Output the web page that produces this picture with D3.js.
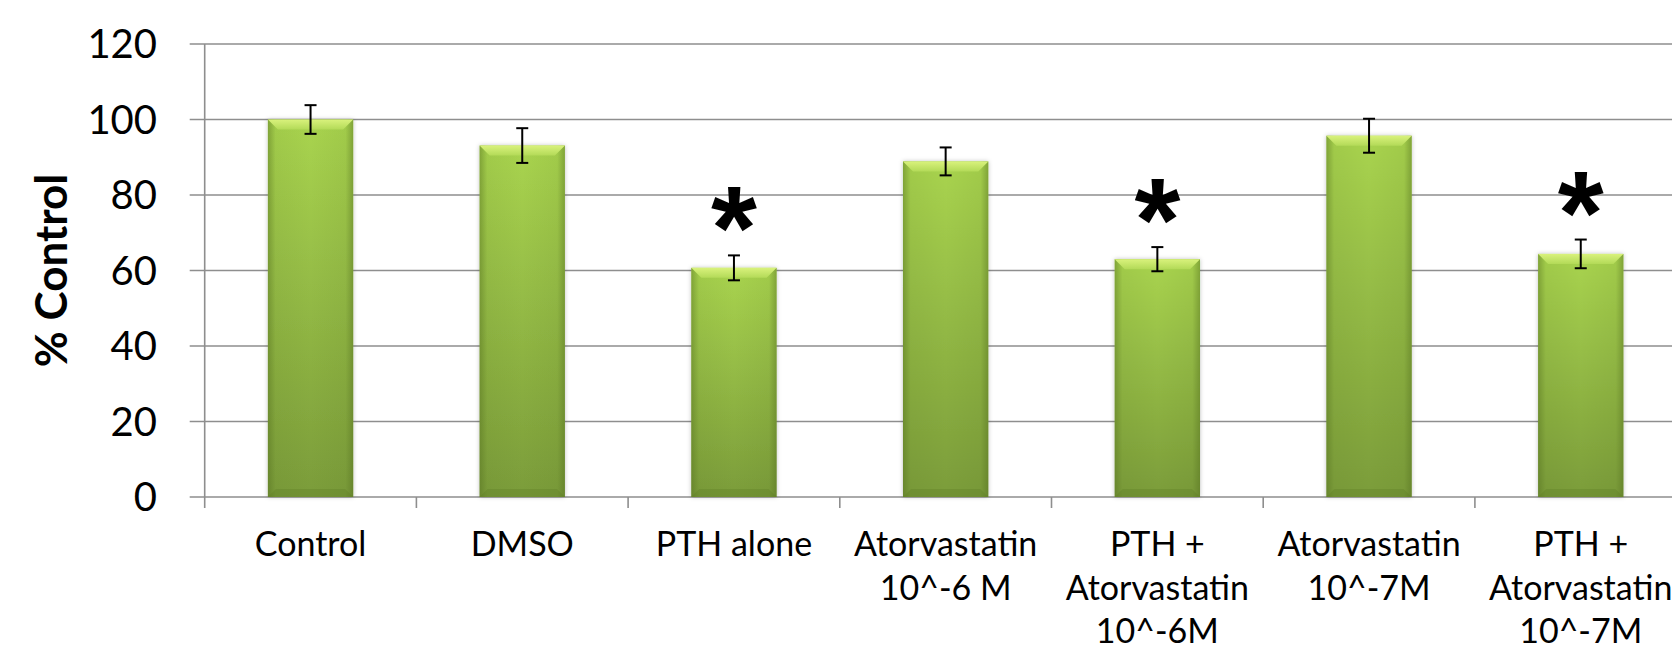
<!DOCTYPE html>
<html>
<head>
<meta charset="utf-8">
<script src="https://cdn.jsdelivr.net/npm/d3@7"></script>
<style>
  html, body { margin: 0; padding: 0; background: #fff; }
  svg { display: block; font-family: Lato, "Open Sans", sans-serif; }
</style>
</head>
<body>
<div id="chart"></div>
<script>
// data
const categories = ["Control", "DMSO", "PTH alone", "Atorvastatin 10^-6 M",
  "PTH + Atorvastatin 10^-6M", "Atorvastatin 10^-7M", "PTH + Atorvastatin 10^-7M"];
const labelLines = [["Control"], ["DMSO"], ["PTH alone"], ["Atorvastatin", "10^-6 M"],
  ["PTH +", "Atorvastatin", "10^-6M"], ["Atorvastatin", "10^-7M"], ["PTH +", "Atorvastatin", "10^-7M"]];
const values = [100, 93.1, 60.7, 88.9, 63.0, 95.7, 64.4];
const errors = [3.8, 4.6, 3.3, 3.7, 3.2, 4.5, 3.8];
const significant = [false, false, true, false, true, false, true];
const yTicks = [0, 20, 40, 60, 80, 100, 120];

const width = 1672, height = 651;
const plot = { left: 204.7, top: 44, bottom: 497, step: 211.7 };

const svg = d3.select("#chart").append("svg")
  .attr("width", width).attr("height", height);

const defs = svg.append("defs");
const body = defs.append("linearGradient").attr("id", "barBody")
  .attr("x1", 0).attr("y1", 0).attr("x2", 0).attr("y2", 1);
body.append("stop").attr("offset", "0%").attr("stop-color", "#a9d44f");
body.append("stop").attr("offset", "100%").attr("stop-color", "#7b9c3a");

const sides = defs.append("linearGradient").attr("id", "barSides")
  .attr("x1", 0).attr("y1", 0).attr("x2", 1).attr("y2", 0);
sides.append("stop").attr("offset", "0%").attr("stop-color", "#4f6a1c").attr("stop-opacity", 0.45);
sides.append("stop").attr("offset", "9%").attr("stop-color", "#4f6a1c").attr("stop-opacity", 0.08);
sides.append("stop").attr("offset", "50%").attr("stop-color", "#4f6a1c").attr("stop-opacity", 0);
sides.append("stop").attr("offset", "91%").attr("stop-color", "#4f6a1c").attr("stop-opacity", 0.08);
sides.append("stop").attr("offset", "100%").attr("stop-color", "#4f6a1c").attr("stop-opacity", 0.45);

const bevel = defs.append("linearGradient").attr("id", "barBevel")
  .attr("x1", 0).attr("y1", 0).attr("x2", 0).attr("y2", 1);
bevel.append("stop").attr("offset", "0%").attr("stop-color", "#d9f27c");
bevel.append("stop").attr("offset", "100%").attr("stop-color", "#b3da58");

const shadow = defs.append("filter").attr("id", "shadow")
  .attr("x", "-20%").attr("y", "-5%").attr("width", "140%").attr("height", "110%");
shadow.append("feDropShadow").attr("dx", 0).attr("dy", 0).attr("stdDeviation", 2)
  .attr("flood-color", "#000").attr("flood-opacity", 0.25);

const x = d3.scaleBand().domain(categories)
  .range([plot.left, plot.left + plot.step * categories.length]).padding(0);
const y = d3.scaleLinear().domain([0, 120]).range([plot.bottom, plot.top]);
const barW = x.bandwidth() * 0.403;
const barX = c => x(c) + (x.bandwidth() - barW) / 2;
const cx = c => x(c) + x.bandwidth() / 2;

// grid lines + y ticks
const grid = svg.append("g");
grid.selectAll("line").data(yTicks).join("line")
  .attr("x1", plot.left - 15).attr("x2", width)
  .attr("y1", d => y(d)).attr("y2", d => y(d))
  .attr("stroke", "#8e8e8e").attr("stroke-width", 1.6);

svg.append("g").selectAll("text").data(yTicks).join("text")
  .attr("x", 157).attr("y", d => y(d)).attr("dy", "0.36em")
  .attr("text-anchor", "end").attr("font-size", 40).attr("fill", "#000")
  .text(d => d);

// y axis line
svg.append("line")
  .attr("x1", plot.left).attr("x2", plot.left)
  .attr("y1", y(120)).attr("y2", plot.bottom + 11)
  .attr("stroke", "#8e8e8e").attr("stroke-width", 1.6);

// x ticks between categories
svg.append("g").selectAll("line").data(categories.slice(1)).join("line")
  .attr("x1", d => x(d)).attr("x2", d => x(d))
  .attr("y1", plot.bottom).attr("y2", plot.bottom + 11)
  .attr("stroke", "#8e8e8e").attr("stroke-width", 1.6);

// bars
const bars = svg.append("g").selectAll("g").data(categories).join("g");
bars.append("rect")
  .attr("x", d => barX(d)).attr("width", barW)
  .attr("y", (d, i) => y(values[i])).attr("height", (d, i) => y(0) - y(values[i]))
  .attr("fill", "url(#barBody)").attr("filter", "url(#shadow)");
bars.append("rect")
  .attr("x", d => barX(d)).attr("width", barW)
  .attr("y", (d, i) => y(values[i])).attr("height", (d, i) => y(0) - y(values[i]))
  .attr("fill", "url(#barSides)");
const bv = 10;
bars.append("path")
  .attr("d", (d, i) => {
    const x0 = barX(d), x1 = x0 + barW, t = y(values[i]);
    return `M${x0},${t}L${x1},${t}L${x1 - bv},${t + bv}L${x0 + bv},${t + bv}Z`;
  })
  .attr("fill", "url(#barBevel)");
// darker lip at the bottom
bars.append("path")
  .attr("d", d => {
    const x0 = barX(d), x1 = x0 + barW, b = y(0);
    return `M${x0},${b}L${x1},${b}L${x1 - 8},${b - 8}L${x0 + 8},${b - 8}Z`;
  })
  .attr("fill", "#5f7d24").attr("fill-opacity", 0.35);

// error bars
const err = svg.append("g").attr("stroke", "#000").attr("stroke-width", 2);
categories.forEach((c, i) => {
  const top = y(values[i] + errors[i]), bot = y(values[i] - errors[i]);
  err.append("line").attr("x1", cx(c)).attr("x2", cx(c)).attr("y1", top).attr("y2", bot);
  err.append("line").attr("x1", cx(c) - 6).attr("x2", cx(c) + 6).attr("y1", top).attr("y2", top);
  err.append("line").attr("x1", cx(c) - 6).attr("x2", cx(c) + 6).attr("y1", bot).attr("y2", bot);
});

// significance asterisks
svg.append("g").selectAll("text")
  .data(categories.filter((c, i) => significant[i])).join("text")
  .attr("x", d => cx(d))
  .attr("y", d => y(values[categories.indexOf(d)] + errors[categories.indexOf(d)]) + 14)
  .attr("text-anchor", "middle")
  .attr("font-family", "'Liberation Sans', Arial, sans-serif")
  .attr("font-weight", "bold").attr("font-size", 118).attr("fill", "#000")
  .text("*");

// x labels
const xl = svg.append("g").selectAll("text").data(categories).join("text")
  .attr("text-anchor", "middle").attr("font-size", 34).attr("fill", "#000");
xl.selectAll("tspan").data((d, i) => labelLines[i].map(t => ({ t, c: d }))).join("tspan")
  .attr("x", d => cx(d.c))
  .attr("y", (d, j) => 556 + j * 43.7)
  .text(d => d.t);

// y axis title
svg.append("text")
  .attr("transform", `translate(67,${(plot.top + plot.bottom) / 2}) rotate(-90)`)
  .attr("text-anchor", "middle").attr("font-size", 44).attr("font-weight", "bold")
  .attr("fill", "#000")
  .text("% Control");
</script>
</body>
</html>
